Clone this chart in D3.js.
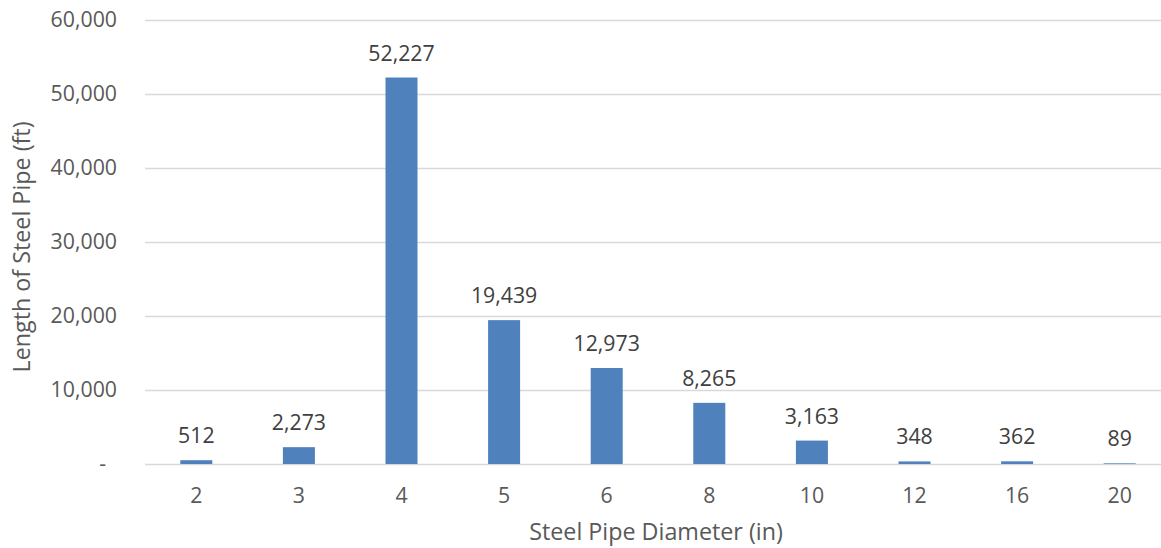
<!DOCTYPE html>
<html>
<head>
<meta charset="utf-8">
<script src="https://cdn.jsdelivr.net/npm/d3@7"></script>
<style>
  html, body { margin: 0; padding: 0; background: #fff; }
  svg { display: block; font-family: "Open Sans", "Noto Sans", sans-serif; }
</style>
</head>
<body>
<svg id="chart" width="1161" height="548"></svg>
<script>
// Pipe diameters (inches) and total length of steel pipe (feet)
const diameters = ["2", "3", "4", "5", "6", "8", "10", "12", "16", "20"];
const lengths = [512, 2273, 52227, 19439, 12973, 8265, 3163, 348, 362, 89];
const yTicks = [0, 10000, 20000, 30000, 40000, 50000, 60000];

const svg = d3.select("#chart");
const plotLeft = 145, plotRight = 1171, plotTop = 20, plotBottom = 464;
const labelSize = 21.3, titleSize = 23.3;

const x = d3.scaleBand()
  .domain(diameters)
  .range([plotLeft, plotRight])
  .paddingInner(0.688)
  .paddingOuter(0.344);

const y = d3.scaleLinear().domain([0, 60000]).range([plotBottom, plotTop]);

const fmt = d3.format(",");

// Horizontal gridlines
svg.append("g")
  .selectAll("line")
  .data(yTicks)
  .join("line")
  .attr("x1", plotLeft)
  .attr("x2", plotRight)
  .attr("y1", d => Math.round(y(d)) + 0.5)
  .attr("y2", d => Math.round(y(d)) + 0.5)
  .attr("stroke", "#d9d9d9")
  .attr("stroke-width", 1.3);

// Y tick labels (zero shown as a dash, accounting style)
svg.append("g")
  .selectAll("text")
  .data(yTicks)
  .join("text")
  .attr("x", d => d === 0 ? 106 : 117)
  .attr("y", d => y(d))
  .attr("dy", "0.35em")
  .attr("text-anchor", "end")
  .attr("font-size", labelSize)
  .attr("fill", "#595959")
  .text(d => d === 0 ? "-" : fmt(d));

// Bars
svg.append("g")
  .selectAll("rect")
  .data(lengths)
  .join("rect")
  .attr("x", (d, i) => x(diameters[i]))
  .attr("width", x.bandwidth())
  .attr("y", d => y(d))
  .attr("height", d => y(0) - y(d))
  .attr("fill", "#4f81bd");

// Value labels
svg.append("g")
  .selectAll("text")
  .data(lengths)
  .join("text")
  .attr("x", (d, i) => x(diameters[i]) + x.bandwidth() / 2)
  .attr("y", d => y(d) - 17)
  .attr("text-anchor", "middle")
  .attr("font-size", labelSize)
  .attr("fill", "#404040")
  .text(d => fmt(d));

// X tick labels
svg.append("g")
  .selectAll("text")
  .data(diameters)
  .join("text")
  .attr("x", d => x(d) + x.bandwidth() / 2)
  .attr("y", 496)
  .attr("dy", "0.35em")
  .attr("text-anchor", "middle")
  .attr("font-size", labelSize)
  .attr("fill", "#595959")
  .text(d => d);

// Axis titles
svg.append("text")
  .attr("x", 656)
  .attr("y", 532)
  .attr("dy", "0.35em")
  .attr("text-anchor", "middle")
  .attr("font-size", titleSize)
  .attr("fill", "#595959")
  .text("Steel Pipe Diameter (in)");

svg.append("text")
  .attr("transform", "translate(22,247) rotate(-90)")
  .attr("dy", "0.35em")
  .attr("text-anchor", "middle")
  .attr("font-size", titleSize)
  .attr("fill", "#595959")
  .text("Length of Steel Pipe (ft)");
</script>
</body>
</html>
